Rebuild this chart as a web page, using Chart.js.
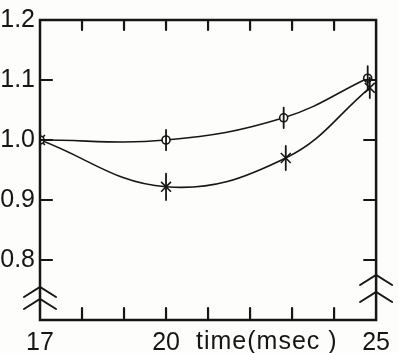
<!DOCTYPE html>
<html lang="en">
<head>
    <meta charset="UTF-8">
    <title>Ratio vs time</title>
    <style>
        * { margin: 0; padding: 0; box-sizing: border-box; }
        body { background: #fdfdfb; width: 398px; height: 353px; overflow: hidden; }
        #wrap { position: relative; width: 398px; height: 353px; }
    </style>
    <script src="https://cdn.jsdelivr.net/npm/chart.js"></script>
</head>
<body>
    <div id="wrap"><canvas id="chart" width="398" height="353"></canvas></div>
    <script>
        // circles
        const timesA = [17, 20, 22.8, 24.8];
        const ratioA = [1.0, 1.0, 1.037, 1.103];
        const errA = [0, 0.017, 0.017, 0.02];
        // asterisks
        const timesB = [17, 20, 22.85, 24.85];
        const ratioB = [1.0, 0.922, 0.97, 1.087];
        const errB = [0, 0.022, 0.02, 0.017];

        const yTicks = [0.8, 0.9, 1.0, 1.1, 1.2];
        const xTickLabels = { 17: '17', 20: '20', 25: '25' };
        const xMinor = [18, 19, 20, 21, 22, 23, 24];
        const xTitle = 'time(msec )';

        const ink = '#161616';
        const font = { family: "'Liberation Sans Narrow', 'Liberation Sans', sans-serif", size: 25 };

        const toPts = (xs, ys) => xs.map((x, i) => ({ x: x, y: ys[i] }));

        const frame = {
            id: 'frame',
            afterDatasetsDraw(chart) {
                const { ctx, chartArea: a, scales: { x, y } } = chart;
                ctx.save();
                ctx.strokeStyle = ink;
                ctx.lineCap = 'round';

                // box
                ctx.lineWidth = 2.5;
                ctx.strokeRect(a.left, a.top, a.right - a.left, a.bottom - a.top);

                // inward ticks
                ctx.lineWidth = 2.2;
                ctx.beginPath();
                xMinor.forEach(v => {
                    const px = x.getPixelForValue(v);
                    ctx.moveTo(px, a.top); ctx.lineTo(px, a.top + 10);
                    ctx.moveTo(px, a.bottom); ctx.lineTo(px, a.bottom - 12);
                });
                yTicks.slice(0, 4).forEach(v => {
                    const py = y.getPixelForValue(v);
                    ctx.moveTo(a.left, py); ctx.lineTo(a.left + 12, py);
                    ctx.moveTo(a.right, py); ctx.lineTo(a.right - 12, py);
                });
                ctx.stroke();

                // axis break marks
                const chevron = (cx, cy) => {
                    ctx.moveTo(cx - 16, cy + 10); ctx.lineTo(cx, cy); ctx.lineTo(cx + 16, cy + 10);
                };
                ctx.lineWidth = 2;
                ctx.beginPath();
                chevron(a.left, a.bottom - 33);
                chevron(a.left, a.bottom - 21);
                chevron(a.right, a.bottom - 45);
                chevron(a.right, a.bottom - 28);
                ctx.stroke();

                // error bars
                ctx.lineWidth = 1.8;
                ctx.beginPath();
                [[timesA, ratioA, errA], [timesB, ratioB, errB]].forEach(([xs, ys, es]) => {
                    xs.forEach((t, i) => {
                        if (!es[i]) return;
                        const px = x.getPixelForValue(t);
                        ctx.moveTo(px, y.getPixelForValue(ys[i] + es[i]));
                        ctx.lineTo(px, y.getPixelForValue(ys[i] - es[i]));
                    });
                });
                ctx.stroke();

                // axis title after the 20 label
                ctx.fillStyle = ink;
                ctx.font = `${font.size}px ${font.family}`;
                ctx.letterSpacing = '1px';
                ctx.textAlign = 'left';
                ctx.textBaseline = 'alphabetic';
                ctx.fillText(xTitle, x.getPixelForValue(20) + 30, 349);
                ctx.restore();
            }
        };

        new Chart(document.getElementById('chart'), {
            type: 'line',
            data: {
                datasets: [
                    {
                        label: 'o',
                        data: toPts(timesA, ratioA),
                        borderColor: ink,
                        borderWidth: 1.6,
                        tension: 0.4,
                        pointStyle: 'circle',
                        pointRadius: 4,
                        pointBorderWidth: 1.6,
                        pointBorderColor: ink,
                        pointBackgroundColor: '#fdfdfb'
                    },
                    {
                        label: '*',
                        data: toPts(timesB, ratioB),
                        borderColor: ink,
                        borderWidth: 1.6,
                        tension: 0.4,
                        pointStyle: 'crossRot',
                        pointRadius: 7,
                        pointBorderWidth: 1.6,
                        pointBorderColor: ink
                    }
                ]
            },
            options: {
                responsive: false,
                animation: false,
                devicePixelRatio: 1,
                layout: { padding: { top: 18, right: 18, left: 0, bottom: 0 } },
                plugins: { legend: { display: false }, tooltip: { enabled: false } },
                scales: {
                    x: {
                        type: 'linear', min: 17, max: 25,
                        grid: { display: false, drawTicks: false },
                        border: { display: false },
                        afterFit: s => { s.height = 33; },
                        afterBuildTicks: s => { s.ticks = Object.keys(xTickLabels).map(v => ({ value: +v })); },
                        ticks: {
                            autoSkip: false, maxRotation: 0, padding: 8,
                            color: ink, font: font,
                            callback: v => xTickLabels[v] || ''
                        }
                    },
                    y: {
                        type: 'linear', min: 0.7, max: 1.2,
                        grid: { display: false, drawTicks: false },
                        border: { display: false },
                        afterFit: s => { s.width = 40; },
                        afterBuildTicks: s => { s.ticks = yTicks.map(v => ({ value: v })); },
                        ticks: {
                            padding: 5, color: ink, font: font,
                            callback: v => v.toFixed(1)
                        }
                    }
                }
            },
            plugins: [frame]
        });
    </script>
</body>
</html>
